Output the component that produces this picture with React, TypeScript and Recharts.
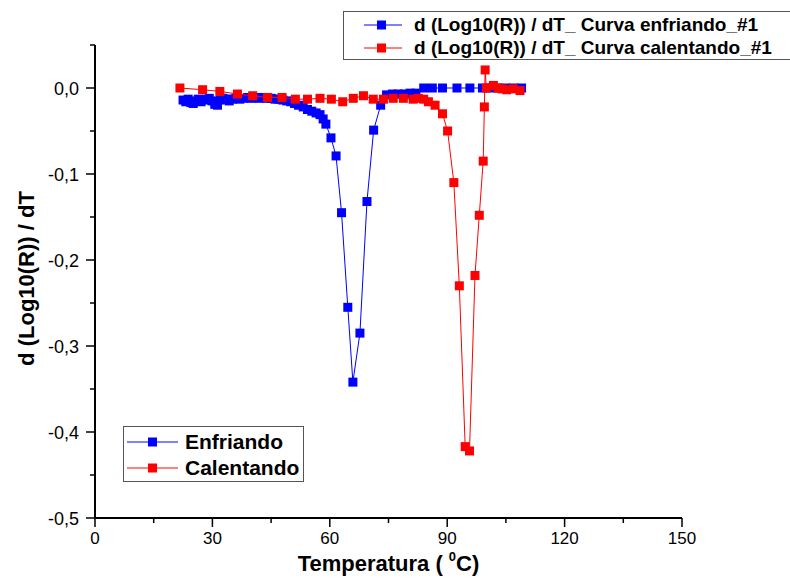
import { ScatterChart, Scatter, XAxis, YAxis, Label } from 'recharts';

// temperatura (°C) / d(log10 R)/dT
const enfriandoT = [
  22.5, 23.2, 23.8, 24.5, 25.1, 25.8, 26.4, 27.1, 27.8, 28.5, 29.2, 29.9, 30.6, 31.3, 32.0, 32.7,
  33.5, 34.3, 35.1, 36, 37, 38, 39, 40, 41, 42, 43, 44, 45, 46, 47, 48, 49, 50, 51, 52, 53.2, 54.3,
  55.4, 56.5, 57.5, 58.3, 59, 60.3, 61.6, 63, 64.6, 65.9, 67.7, 69.5, 71.2, 73, 74.5, 76, 77.5, 79,
  80.5, 82, 84, 86.2, 88.8, 92.5, 95.8, 99, 101, 103, 105, 107, 109,
];
const enfriandoD = [
  -0.014, -0.016, -0.013, -0.017, -0.018, -0.015, -0.013, -0.016, -0.014, -0.013, -0.012, -0.015,
  -0.019, -0.02, -0.014, -0.012, -0.013, -0.015, -0.013, -0.012, -0.013, -0.012, -0.011, -0.012,
  -0.011, -0.012, -0.011, -0.012, -0.012, -0.013, -0.013, -0.014, -0.015, -0.016, -0.018, -0.02,
  -0.022, -0.025, -0.027, -0.029, -0.031, -0.036, -0.042, -0.058, -0.079, -0.145, -0.255, -0.342,
  -0.285, -0.132, -0.049, -0.02, -0.008, -0.007, -0.007, -0.007, -0.006, -0.006, 0, 0, 0, 0, 0, 0,
  0, 0, 0, 0, 0,
];

const calentandoT = [
  21.7, 27.5, 31.9, 36.4, 40.3, 44.1, 47.8, 51.2, 54.3, 57.5, 60.4, 63.3, 66, 68.6, 71.1, 73.7,
  76.2, 78.8, 81.3, 82.6, 84, 85.2, 86.9, 88.8, 90.1, 91.7, 93.1, 94.6, 95.7, 97.1, 98.2, 99.2,
  99.5, 99.7, 100, 101.8, 103, 104, 105.2, 106.9, 108.6,
];
const calentandoD = [
  0.0, -0.002, -0.004, -0.007, -0.009, -0.011, -0.011, -0.013, -0.013, -0.012, -0.013, -0.016,
  -0.012, -0.009, -0.013, -0.013, -0.012, -0.012, -0.013, -0.012, -0.013, -0.016, -0.02, -0.03,
  -0.05, -0.11, -0.23, -0.417, -0.422, -0.218, -0.148, -0.085, -0.022, 0.021, 0.0, 0.003, 0.0,
  -0.001, -0.002, -0.001, -0.003,
];

const xTicks = [0, 15, 30, 45, 60, 75, 90, 105, 120, 135, 150];
const yTicks = [-0.5, -0.45, -0.4, -0.35, -0.3, -0.25, -0.2, -0.15, -0.1, -0.05, 0, 0.05];

const FONT = '"Liberation Sans", Arial, sans-serif';
const BLUE = '#0000ff';
const RED = '#ff0000';

const enfriando = enfriandoT.map((t, i) => ({ x: t, y: enfriandoD[i] }));
const calentando = calentandoT.map((t, i) => ({ x: t, y: calentandoD[i] }));

const Square = ({ cx, cy, fill }: any) => (
  <rect x={cx - 4.5} y={cy - 4.5} width={9} height={9} fill={fill} />
);

const XTick = ({ x, y, payload }: any) => {
  const major = payload.value % 30 === 0;
  return (
    <g>
      <line x1={x} x2={x} y1={y} y2={y + (major ? 9 : 5)} stroke="#000" strokeWidth={1.5} />
      {major && (
        <text x={x} y={y + 26} textAnchor="middle" fontSize={17} fontFamily={FONT} fill="#000">
          {payload.value}
        </text>
      )}
    </g>
  );
};

const YTick = ({ x, y, payload }: any) => {
  const v = payload.value;
  const major = Math.abs(v * 10 - Math.round(v * 10)) < 1e-6;
  return (
    <g>
      <line x1={x} x2={x - (major ? 9 : 5)} y1={y} y2={y} stroke="#000" strokeWidth={1.5} />
      {major && (
        <text x={x - 16} y={y + 6.5} textAnchor="end" fontSize={18} fontFamily={FONT} fill="#000">
          {v.toFixed(1).replace('.', ',')}
        </text>
      )}
    </g>
  );
};

const LegendSym = ({ color, w, sq }: { color: string; w: number; sq: number }) => (
  <svg width={w} height={12} style={{ display: 'block' }}>
    <line x1={0} x2={w} y1={6} y2={6} stroke={color} strokeWidth={1} />
    <rect x={sq} y={1.5} width={9} height={9} fill={color} />
  </svg>
);

export default function App() {
  return (
    <div
      style={{
        position: 'absolute',
        left: 0,
        top: 0,
        width: 790,
        height: 578,
        overflow: 'hidden',
        background: '#fff',
      }}
    >
      <ScatterChart width={790} height={578} margin={{ top: 45, right: 108, bottom: 0, left: 0 }}>
        <XAxis
          type="number"
          dataKey="x"
          domain={[0, 150]}
          ticks={xTicks}
          interval={0}
          tick={<XTick />}
          tickLine={false}
          tickSize={0}
          tickMargin={0}
          height={60}
          axisLine={{ stroke: '#000', strokeWidth: 2 }}
        >
          <Label
            content={({ viewBox }: any) => (
              <text
                x={viewBox.x + viewBox.width / 2}
                y={viewBox.y + 53}
                textAnchor="middle"
                fontSize={22}
                fontWeight="bold"
                fontFamily={FONT}
                fill="#000"
              >
                {'Temperatura ( '}
                <tspan fontSize={13} dy={-10}>0</tspan>
                <tspan dy={10}>C)</tspan>
              </text>
            )}
          />
        </XAxis>
        <YAxis
          type="number"
          dataKey="y"
          domain={[-0.5, 0.05]}
          ticks={yTicks}
          interval={0}
          tick={<YTick />}
          tickLine={false}
          tickSize={0}
          tickMargin={0}
          width={95}
          axisLine={{ stroke: '#000', strokeWidth: 2 }}
        >
          <Label
            content={({ viewBox }: any) => {
              const cx = 34;
              const cy = viewBox.y + viewBox.height / 2 - 3;
              return (
                <text
                  x={cx}
                  y={cy}
                  transform={`rotate(-90, ${cx}, ${cy})`}
                  textAnchor="middle"
                  fontSize={22}
                  fontWeight="bold"
                  fontFamily={FONT}
                  fill="#000"
                >
                  d (Log10(R)) / dT
                </text>
              );
            }}
          />
        </YAxis>
        <Scatter
          data={enfriando}
          fill={BLUE}
          line={{ stroke: BLUE, strokeWidth: 1 }}
          shape={<Square />}
          isAnimationActive={false}
        />
        <Scatter
          data={calentando}
          fill={RED}
          line={{ stroke: RED, strokeWidth: 1 }}
          shape={<Square />}
          isAnimationActive={false}
        />
      </ScatterChart>

      <div
        style={{
          position: 'absolute',
          left: 343,
          top: 11,
          width: 460,
          height: 49,
          border: '1.5px solid #555',
          boxSizing: 'border-box',
          fontFamily: FONT,
          fontWeight: 'bold',
          fontSize: 19,
          background: '#fff',
        }}
      >
        {[
          { c: BLUE, t: 'd (Log10(R)) / dT_ Curva enfriando_#1' },
          { c: RED, t: 'd (Log10(R)) / dT_ Curva calentando_#1' },
        ].map((r, i) => (
          <div
            key={i}
            style={{ position: 'absolute', left: 20, top: 2 + i * 23, height: 22, display: 'flex', alignItems: 'center' }}
          >
            <LegendSym color={r.c} w={38} sq={13} />
            <span style={{ marginLeft: 12, whiteSpace: 'nowrap' }}>{r.t}</span>
          </div>
        ))}
      </div>

      <div
        style={{
          position: 'absolute',
          left: 123,
          top: 426,
          width: 181,
          height: 56,
          border: '1.5px solid #555',
          boxSizing: 'border-box',
          fontFamily: FONT,
          fontWeight: 'bold',
          fontSize: 21,
          background: '#fff',
        }}
      >
        {[
          { c: BLUE, t: 'Enfriando' },
          { c: RED, t: 'Calentando' },
        ].map((r, i) => (
          <div
            key={i}
            style={{ position: 'absolute', left: 3, top: 3 + i * 26, height: 24, display: 'flex', alignItems: 'center' }}
          >
            <LegendSym color={r.c} w={51} sq={21} />
            <span style={{ marginLeft: 7, whiteSpace: 'nowrap' }}>{r.t}</span>
          </div>
        ))}
      </div>
    </div>
  );
}
